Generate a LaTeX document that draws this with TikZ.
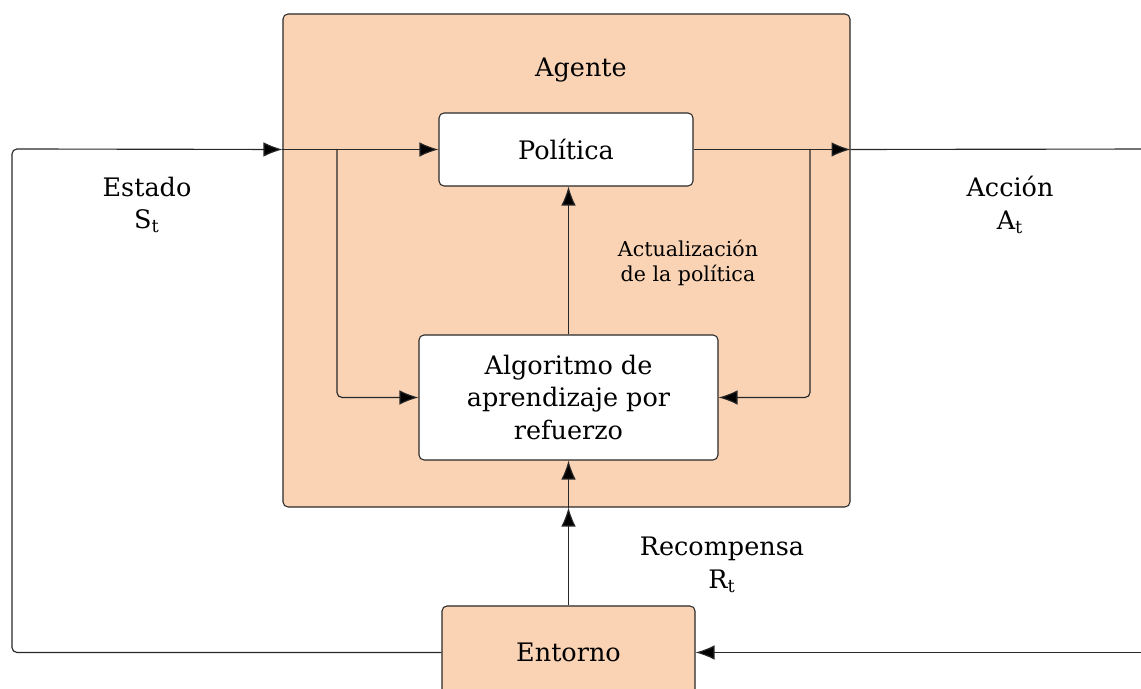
\documentclass[tikz,border=0pt]{standalone}
\usepackage{fontspec}
\setmainfont{DejaVu Serif}
\usepackage{tikz}
\usetikzlibrary{arrows.meta}
\definecolor{peach}{RGB}{250,211,180}
\definecolor{edgegray}{RGB}{40,40,40}
\begin{document}
\begin{tikzpicture}[>={Latex[length=3.8mm,width=2.9mm,fill=black]},
      wire/.style={draw=edgegray,line width=0.65pt},
      box/.style={draw=edgegray,line width=0.6pt,rounded corners=1mm,align=center,
        font=\fontsize{14.5}{18.5}\selectfont},
      lbl/.style={align=center,font=\fontsize{14.5}{18.5}\selectfont}]
      \useasboundingbox (0,0) rectangle (22.82,13.78);
      \node[box,fill=peach,minimum width=11.34cm,minimum height=9.86cm] (Ag) at (11.33,8.57) {};
      \node[lbl] (ag) at (11.62,12.38) {Agente};
      \node[box,fill=white,minimum width=5.08cm,minimum height=1.46cm] (P) at (11.32,10.79) {Política};
      \node[box,fill=white,minimum width=5.98cm,minimum height=2.5cm] (A) at (11.37,5.83)
        {Algoritmo de\\aprendizaje por\\refuerzo};
      \node[box,fill=peach,minimum width=5.06cm,minimum height=1.86cm] (E) at (11.37,0.73) {Entorno};
      \node[lbl] (st) at (2.94,9.68) {Estado\\S\textsubscript{t}};
      \node[lbl] (at) at (20.2,9.68) {Acción\\A\textsubscript{t}};
      \node[lbl,font=\fontsize{11.7}{14.5}\selectfont] (up) at (13.76,8.52) {Actualización\\de la política};
      \node[lbl] (rt) at (14.44,2.48) {Recompensa\\R\textsubscript{t}};
      \coordinate (sL) at (0.24,10.80);
      \coordinate (bl) at (6.74,10.80);
      \coordinate (br) at (16.20,10.80);
      \coordinate (oR) at (23.4,10.80);
      \draw[wire,->,rounded corners=1mm] (E.west) -| (sL) -- (Ag.west |- P.west);
      \draw[wire,->] (Ag.west |- P.west) -- (P.west);
      \draw[wire,->,rounded corners=1mm] (bl) |- (A.west);
      \draw[wire,->] (P.east) -- (Ag.east |- P.east);
      \draw[wire] (Ag.east |- P.east) -- (oR);
      \draw[wire,->,rounded corners=1mm] (br) |- (A.east);
      \draw[wire,->] (oR |- E.east) -- (E.east);
      \draw[wire,->] (A.north) -- (A.north |- P.south);
      \draw[wire,->] (E.north) -- (Ag.south -| E.north);
      \draw[wire,->] (Ag.south -| E.north) -- (A.south -| E.north);
    \end{tikzpicture}
\end{document}
